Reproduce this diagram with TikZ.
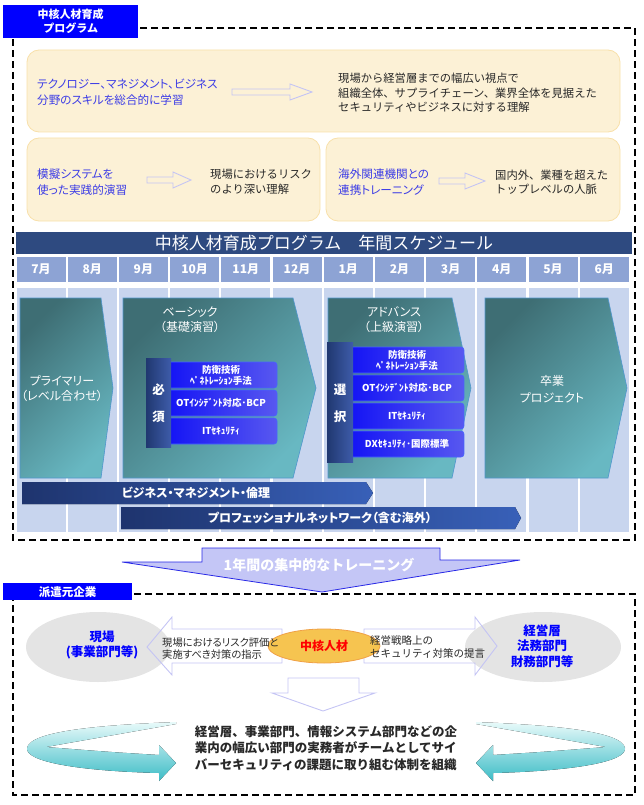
\documentclass[tikz,border=0pt]{standalone}
\usepackage{fontspec}
\setmainfont{Noto Sans CJK JP}
\newfontfamily\pjp[RawFeature=+palt]{Noto Sans CJK JP}

\definecolor{labelblue}{RGB}{0,0,255}
\definecolor{beige}{RGB}{252,241,214}
\definecolor{beigeline}{RGB}{248,224,170}
\definecolor{skilltext}{RGB}{60,60,230}
\definecolor{darktext}{RGB}{40,40,40}
\definecolor{arrowline}{RGB}{196,196,244}
\definecolor{navy}{RGB}{46,74,128}
\definecolor{monthcell}{RGB}{141,163,212}
\definecolor{colbody}{RGB}{200,213,238}
\definecolor{tealdark}{RGB}{62,110,116}
\definecolor{teallight}{RGB}{104,184,194}
\definecolor{phaseline}{RGB}{80,150,205}
\definecolor{barleft}{RGB}{30,52,110}
\definecolor{barright}{RGB}{56,96,184}
\definecolor{sideleft}{RGB}{32,56,112}
\definecolor{sideright}{RGB}{62,92,170}
\definecolor{itemleft}{RGB}{18,18,245}
\definecolor{itemright}{RGB}{88,88,240}
\definecolor{itemline}{RGB}{70,100,255}
\definecolor{lavender}{RGB}{196,198,246}
\definecolor{edgeblue}{RGB}{40,40,230}
\definecolor{ellgray}{RGB}{228,228,228}
\definecolor{orangefill}{RGB}{246,196,80}
\definecolor{orangeline}{RGB}{240,160,70}
\definecolor{cyanlight}{RGB}{232,250,250}
\definecolor{cyandark}{RGB}{60,188,198}

% hollow arrow: start x, tip x, y, head x
\newcommand{\hollowarrow}[4]{%
  \draw[hollow] (#1,#3-3) -- (#4,#3-3) -- (#4,#3-8) -- (#2,#3) -- (#4,#3+8) -- (#4,#3+3) -- (#1,#3+3) -- cycle;}
% phase arrow: left x, flat right x, tip x
\newcommand{\phasebox}[3]{%
  \draw[phase] (#1,298) -- (#2,298) -- (#3,388) -- (#2,478) -- (#1,478) -- cycle;}
\newcommand{\crescent}{%
  \fill[crescent] (176,722) .. controls (100,725) and (30,731) .. (27,748)
    .. controls (25,762) and (80,771) .. (159,773) -- (159,781) -- (176,763)
    -- (159,745) -- (159,755) .. controls (110,752) .. (46,747) -- (176,724) -- cycle;}

\begin{document}
\begin{tikzpicture}[x=1pt,y=-1pt,
  frame/.style={dash pattern=on 7pt off 4pt,line width=1.8pt},
  tag/.style={fill=labelblue,text=white,inner sep=0pt,align=center,font=\bfseries\fontsize{11}{14}\selectfont},
  beigebox/.style={fill=beige,draw=beigeline,line width=0.8pt,rounded corners=12pt},
  hollow/.style={draw=arrowline,line width=0.9pt},
  skill/.style={anchor=west,inner sep=0pt,align=left,text=skilltext,font=\pjp\fontsize{11.6}{15.5}\selectfont},
  result/.style={anchor=west,inner sep=0pt,align=left,text=darktext,font=\fontsize{11.3}{14.5}\selectfont},
  month/.style={text=white,inner sep=0pt,font=\bfseries\fontsize{12}{12}\selectfont},
  phase/.style={draw=phaseline,line width=0.6pt,top color=tealdark,bottom color=teallight,shading angle=45},
  phasetext/.style={text=white,inner sep=0pt,align=center,font=\pjp\fontsize{12}{15}\selectfont},
  item/.style={draw=itemline,line width=0.6pt,rounded corners=3pt,left color=itemleft,right color=itemright},
  itemtext/.style={text=white,inner sep=0pt,align=center,font=\bfseries\fontsize{9.5}{11}\selectfont},
  sidebar/.style={left color=sideleft,right color=sideright},
  sidetext/.style={text=white,inner sep=0pt,align=center,font=\bfseries\fontsize{12.5}{27}\selectfont},
  longbar/.style={left color=barleft,right color=barright},
  bartext/.style={text=white,inner sep=0pt,font=\pjp\bfseries\fontsize{12}{12}\selectfont},
  bigarrow/.style={fill=lavender,draw=edgeblue,line width=0.8pt},
  blob/.style={fill=ellgray},
  blobtext/.style={text=labelblue,inner sep=0pt,align=center,font=\bfseries\fontsize{12.5}{15.5}\selectfont},
  crescent/.style={top color=cyanlight,bottom color=cyandark}]
\useasboundingbox (0,0) rectangle (644,805);

% programme
\draw[frame] (13,28) rectangle (635,540);
\node[tag,minimum width=135pt,minimum height=33pt,anchor=north west] (progtag) at (3,5) {中核人材育成\\プログラム};

\draw[beigebox] (27,50) rectangle (620,132);
\draw[beigebox] (27,138) rectangle (320,221);
\draw[beigebox] (326,138) rectangle (620,221);
\node[skill] (skillA) at (37,92) {テクノロジー、マネジメント、ビジネス\\分野のスキルを総合的に学習};
\hollowarrow{232}{312}{92}{290}
\node[result] (resultA) at (338,93) {現場から経営層までの幅広い視点で\\組織全体、サプライチェーン、業界全体を見据えた\\セキュリティやビジネスに対する理解};
\node[skill] (skillB) at (37,182) {模擬システムを\\使った実践的演習};
\hollowarrow{147}{191}{180}{173}
\node[result] (resultB) at (210,182) {現場におけるリスク\\のより深い理解};
\node[skill] (skillC) at (338,182) {海外関連機関との\\連携トレーニング};
\hollowarrow{439}{485}{181}{465}
\node[result] (resultC) at (495,182) {国内外、業種を超えた\\トップレベルの人脈};

% schedule
\fill[navy] (16,232) rectangle (632,254);
\node[text=white,inner sep=0pt,font=\fontsize{17}{17}\selectfont] (schedtitle) at (324,243) {中核人材育成プログラム　年間スケジュール};
\foreach \m [count=\i from 0] in {7,8,9,10,11,12,1,2,3,4,5,6} {
  \fill[monthcell] ({16.5+51.2*\i},257) rectangle ++(49,25);
  \fill[colbody] ({16.5+51.2*\i},288) rectangle ++(49,244);
  \node[month] (mon\m) at ({41+51.2*\i},269.5) {\m 月};
}

\phasebox{20}{101}{113}
\phasebox{123}{293}{316}
\phasebox{328}{452}{471}
\phasebox{485}{608}{627}
\node[phasetext] (primary) at (62,389) {プライマリー\\（レベル合わせ）};
\node[phasetext] (basic) at (190,320) {ベーシック\\（基礎演習）};
\node[phasetext] (advance) at (394,320) {アドバンス\\（上級演習）};
\node[phasetext,font=\pjp\fontsize{12}{17}\selectfont] (gradproj) at (552,389) {卒業\\プロジェクト};

\foreach \top/\t [count=\k] in {362/{防衛技術\\ﾍﾟﾈﾄﾚｰｼｮﾝ手法},390/{OTｲﾝｼﾃﾞﾝﾄ対応･BCP},418/{ITｾｷｭﾘﾃｨ}} {
  \draw[item] (165,\top) rectangle (277,\top+26);
  \node[itemtext] (basicItem\k) at (221,\top+13) {\t};
}
\fill[sidebar] (146,358) rectangle (171,447);
\node[sidetext] (must) at (158.5,403) {必\\須};

\foreach \top/\t [count=\k] in {347/{防衛技術\\ﾍﾟﾈﾄﾚｰｼｮﾝ手法},375/{OTｲﾝｼﾃﾞﾝﾄ対応･BCP},403/{ITｾｷｭﾘﾃｨ},431/{DXｾｷｭﾘﾃｨ･国際標準}} {
  \draw[item] (347,\top) rectangle (464,\top+26);
  \node[itemtext] (advItem\k) at (407,\top+13) {\t};
}
\fill[sidebar] (327,342) rectangle (353,462);
\node[sidetext] (choose) at (340,403.5) {選\\択};

\fill[longbar] (22,482) -- (366,482) -- (373,493) -- (366,504) -- (22,504) -- cycle;
\node[bartext] (biz) at (196,493) {ビジネス・マネジメント・倫理};
\fill[longbar] (121,507) -- (515,507) -- (521,518) -- (515,529) -- (121,529) -- cycle;
\node[bartext] (pronet) at (320,518) {プロフェッショナルネットワーク（含む海外）};

% one year arrow
\draw[bigarrow] (202,548) -- (440,548) -- (440,560) -- (520,560) -- (322,592) -- (122,562) -- (202,562) -- cycle;
\node[text=white,inner sep=0pt,font=\bfseries\fontsize{14}{14}\selectfont] (yeartext) at (319,565) {1年間の集中的なトレーニング};

% sending company
\draw[frame] (13,594) rectangle (635,795);
\node[tag,minimum width=129pt,minimum height=17pt,anchor=north west,font=\bfseries\fontsize{11.5}{12}\selectfont] (senttag) at (3,583) {派遣元企業};

\fill[blob] (98,647) ellipse [x radius=72pt,y radius=35pt];
\fill[blob] (543,647) ellipse [x radius=78pt,y radius=35pt];
\node[blobtext] (field) at (102,645) {現場\\(事業部門等)};
\node[blobtext] (execs) at (542,646) {経営層\\法務部門\\財務部門等};

\draw[hollow] (282,629) -- (172,629) -- (172,617) -- (147,647) -- (172,675) -- (172,663) -- (282,663) -- cycle;
\draw[hollow] (364,629) -- (475,629) -- (475,617) -- (497,646) -- (475,675) -- (475,663) -- (364,663) -- cycle;
\draw[fill=orangefill,draw=orangeline,line width=0.8pt] (324,646) ellipse [x radius=56pt,y radius=17pt];
\node[text=red,inner sep=0pt,font=\bfseries\fontsize{12}{12}\selectfont] (core) at (324,646) {中核人材};
\node[anchor=west,inner sep=0pt,align=left,text=darktext,font=\pjp\fontsize{10.3}{11.5}\selectfont] (toField) at (162,648.5) {現場におけるリスク評価と\\実施すべき対策の指示};
\node[anchor=west,inner sep=0pt,align=left,text=darktext,font=\fontsize{10.5}{13}\selectfont] (toExecs) at (370,647) {経営戦略上の\\セキュリティ対策の提言};

\draw[hollow] (288,678) -- (359,678) -- (359,693) -- (375,693) -- (323,711) -- (272,693) -- (288,693) -- cycle;

\crescent
\begin{scope}[xshift=652pt,xscale=-1]
\crescent
\end{scope}
\node[inner sep=0pt,align=left,text=darktext,font=\bfseries\fontsize{12.5}{16.5}\selectfont] (summary) at (326,748) {経営層、事業部門、情報システム部門などの企\\業内の幅広い部門の実務者がチームとしてサイ\\バーセキュリティの課題に取り組む体制を組織};
\end{tikzpicture}
\end{document}
